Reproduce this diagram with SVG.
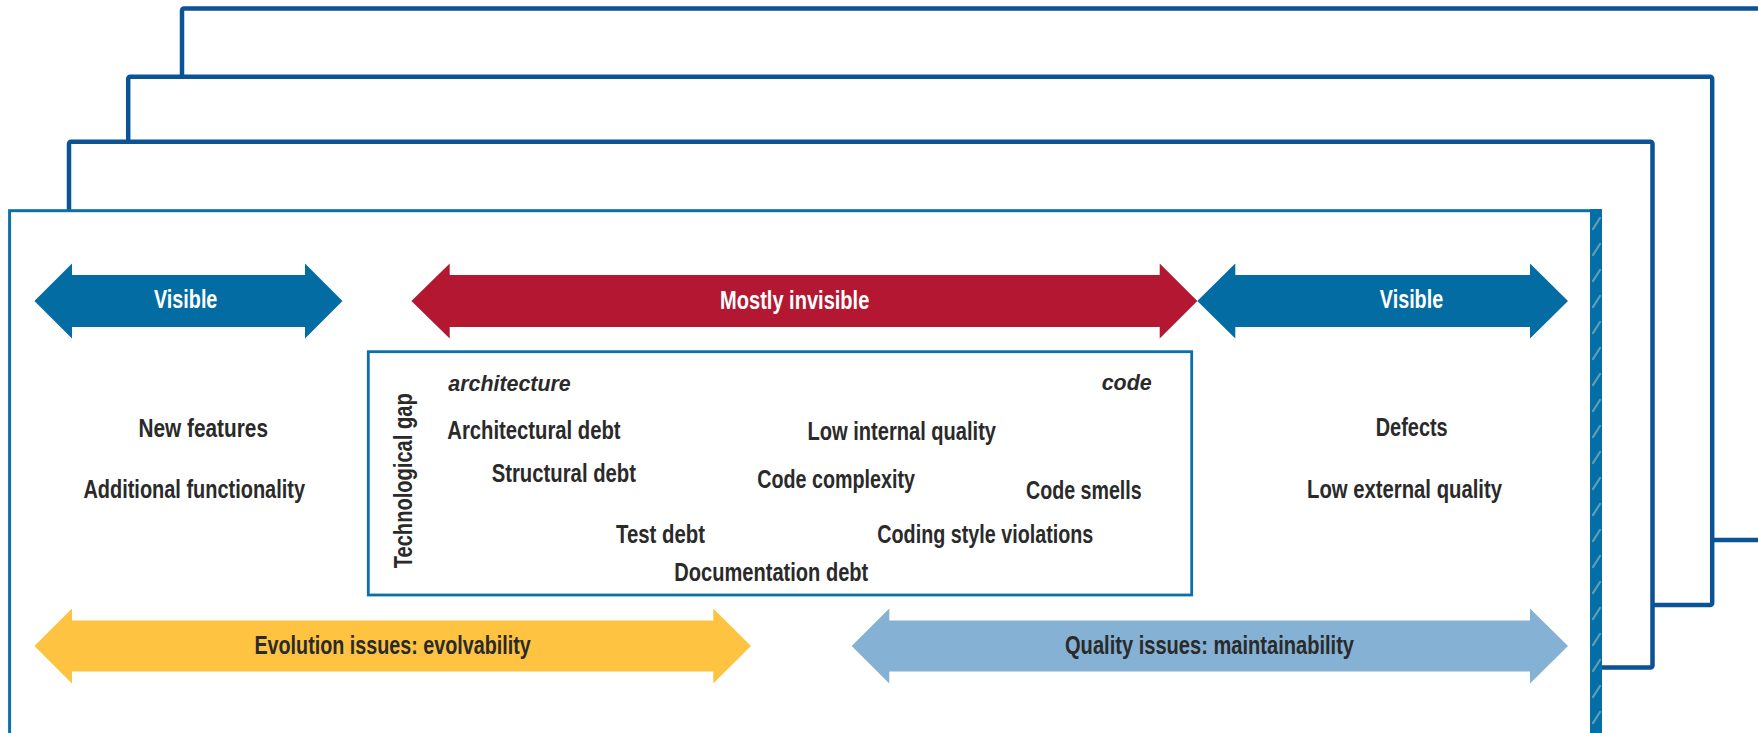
<svg xmlns="http://www.w3.org/2000/svg" width="1758" height="733" viewBox="0 0 1758 733">
  <style>
    .frame { fill: #ffffff; stroke: #0b5394; stroke-width: 4.5; }
    .main { fill: #ffffff; stroke: #0b70a6; stroke-width: 3; }
    .box { fill: #ffffff; stroke: #0b70a6; stroke-width: 2.8; }
    .txt { font-family: "Liberation Sans", Arial, sans-serif; font-weight: bold; font-size: 26px; fill: #2a2a2a; }
    .lbl { font-family: "Liberation Sans", Arial, sans-serif; font-weight: bold; font-size: 25px; fill: #ffffff; text-anchor: middle; }
    .lbl.dark { fill: #2a2a2a; }
    .hdr { font-family: "Liberation Sans", Arial, sans-serif; font-weight: bold; font-style: italic; font-size: 22px; fill: #2a2a2a; }
  </style>
  <defs>
    <pattern id="hatch" patternUnits="userSpaceOnUse" x="1590" y="209" width="12" height="26">
      <rect width="12" height="26" fill="#046ea6"/>
      <line x1="3" y1="20" x2="10" y2="9" stroke="#5f9fb3" stroke-width="2.2" stroke-linecap="round"/>
    </pattern>
  </defs>

  <!-- stacked frames, back to front -->
  <g id="frame-back">
    <rect class="frame" x="182" y="8.5" width="1700" height="531.5" rx="2"/>
  </g>
  <g id="frame-2">
    <rect class="frame" x="128.2" y="76.7" width="1584" height="528.3" rx="2"/>
  </g>
  <g id="frame-3">
    <rect class="frame" x="69" y="141.7" width="1583.5" height="525.8" rx="2"/>
  </g>
  <g id="frame-main">
    <rect class="main" x="9.6" y="210.7" width="1586" height="600"/>
    <rect x="1590" y="209" width="12" height="530" fill="url(#hatch)"/>
  </g>

  <!-- band arrows -->
  <g id="arrows">
    <g id="visible-left">
      <polygon fill="#036ca3" points="34.4,301 72,263.5 72,275 305,275 305,263.5 342.5,301 305,338.5 305,327 72,327 72,338.5"/>
      <text class="lbl" x="185.7" y="308.3" textLength="63.3" lengthAdjust="spacingAndGlyphs">Visible</text>
    </g>
    <g id="mostly-invisible">
      <polygon fill="#b31731" points="411.4,301 449.7,263.5 449.7,275 1159.7,275 1159.7,263.5 1197.3,301 1159.7,338.5 1159.7,327 449.7,327 449.7,338.5"/>
      <text class="lbl" x="794.7" y="309" textLength="149.3" lengthAdjust="spacingAndGlyphs">Mostly invisible</text>
    </g>
    <g id="visible-right">
      <polygon fill="#036ca3" points="1197.3,301 1235.3,263.5 1235.3,275 1530,275 1530,263.5 1568,301 1530,338.5 1530,327 1235.3,327 1235.3,338.5"/>
      <text class="lbl" x="1411.5" y="308.3" textLength="63.3" lengthAdjust="spacingAndGlyphs">Visible</text>
    </g>
    <g id="evolution">
      <polygon fill="#fec340" points="34.4,646 72,608.5 72,620.5 713.3,620.5 713.3,608.5 751,646 713.3,683.5 713.3,671.5 72,671.5 72,683.5"/>
      <text class="lbl dark" x="392.6" y="653.5" textLength="276.3" lengthAdjust="spacingAndGlyphs">Evolution issues: evolvability</text>
    </g>
    <g id="quality">
      <polygon fill="#84b1d4" points="851.7,646 889.3,608.5 889.3,620.5 1530,620.5 1530,608.5 1568,646 1530,683.5 1530,671.5 889.3,671.5 889.3,683.5"/>
      <text class="lbl dark" x="1209.5" y="654" textLength="289" lengthAdjust="spacingAndGlyphs">Quality issues: maintainability</text>
    </g>
  </g>

  <!-- left column -->
  <g id="left-visible">
    <text class="txt" x="138.5" y="436.7" textLength="129.5" lengthAdjust="spacingAndGlyphs">New features</text>
    <text class="txt" x="83.4" y="497.7" textLength="221.6" lengthAdjust="spacingAndGlyphs">Additional functionality</text>
  </g>

  <!-- right column -->
  <g id="right-visible">
    <text class="txt" x="1375.7" y="436" textLength="72" lengthAdjust="spacingAndGlyphs">Defects</text>
    <text class="txt" x="1307" y="497.7" textLength="195" lengthAdjust="spacingAndGlyphs">Low external quality</text>
  </g>

  <!-- technological gap box -->
  <g id="technological-gap">
    <rect class="box" x="368.3" y="351.7" width="823.4" height="243.3"/>
    <text class="txt" x="412" y="480.8" text-anchor="middle" transform="rotate(-90 412 480.8)" textLength="175" lengthAdjust="spacingAndGlyphs">Technological gap</text>
    <text class="hdr" x="448.3" y="390.7" textLength="122.4" lengthAdjust="spacingAndGlyphs">architecture</text>
    <text class="hdr" x="1101.7" y="390" textLength="50" lengthAdjust="spacingAndGlyphs">code</text>
    <text class="txt" x="447.3" y="439" textLength="173.3" lengthAdjust="spacingAndGlyphs">Architectural debt</text>
    <text class="txt" x="491.7" y="481.7" textLength="144.3" lengthAdjust="spacingAndGlyphs">Structural debt</text>
    <text class="txt" x="616" y="543.3" textLength="89" lengthAdjust="spacingAndGlyphs">Test debt</text>
    <text class="txt" x="674.3" y="580.7" textLength="194" lengthAdjust="spacingAndGlyphs">Documentation debt</text>
    <text class="txt" x="807.5" y="440" textLength="188.5" lengthAdjust="spacingAndGlyphs">Low internal quality</text>
    <text class="txt" x="757.3" y="488" textLength="157.7" lengthAdjust="spacingAndGlyphs">Code complexity</text>
    <text class="txt" x="1026" y="499.3" textLength="115.7" lengthAdjust="spacingAndGlyphs">Code smells</text>
    <text class="txt" x="877.3" y="543.3" textLength="216" lengthAdjust="spacingAndGlyphs">Coding style violations</text>
  </g>
</svg>
